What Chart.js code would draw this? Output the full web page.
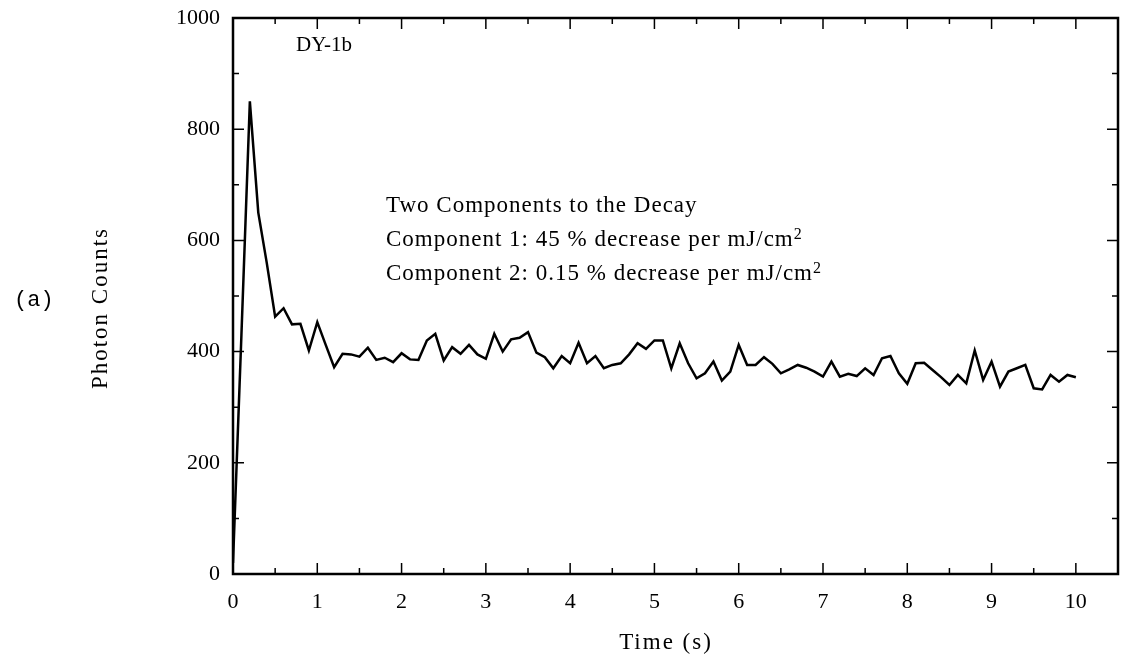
<!DOCTYPE html>
<html>
<head>
<meta charset="utf-8">
<script src="https://cdn.jsdelivr.net/npm/chart.js@4/dist/chart.umd.min.js"></script>
<style>
html,body{margin:0;padding:0;background:#fff;}
#decayChart{display:block;}
</style>
</head>
<body>
<canvas id="decayChart" width="1121" height="662"></canvas>
<script>
// PHOTON COUNT DECAY (DY-1b)

const timeStep = 0.1;

const photonCounts = [
20,430,850,650,560,463,478,449,450,402,
453,412,372,396,395,391,407,385,389,381,
397,386,385,420,432,384,408,396,412,395,
387,432,400,422,425,435,398,390,370,392,
379,416,379,392,370,376,379,395,415,405,
420,420,370,415,379,352,361,382,348,364,
412,376,376,390,378,361,368,376,371,364,
355,382,355,360,356,370,358,388,392,361,
342,379,380,367,354,340,358,343,402,349,
382,337,364,370,376,334,332,358,346,358,
354
];

const xTicks = [0,1,2,3,4,5,6,7,8,9,10];
const xMinorTicks = [0.5,1.5,2.5,3.5,4.5,5.5,6.5,7.5,8.5,9.5];
const yTicks = [0,200,400,600,800,1000];
const yMinorTicks = [100,300,500,700,900];

const notes = [
"Two Components to the Decay",
"Component 1: 45 % decrease per mJ/cm",
"Component 2: 0.15 % decrease per mJ/cm"
];

const serif = "'Liberation Serif', 'Times New Roman', serif";

const points = photonCounts.map((v,i)=>({x:+(i*timeStep).toFixed(1),y:v}));

// frame, inward ticks and texts
const framePlugin = {
id:"frame",
afterDraw(chart){
const ctx = chart.ctx;
const a = chart.chartArea;
const xs = chart.scales.x;
const ys = chart.scales.y;
ctx.save();
ctx.strokeStyle = "#000";
ctx.lineWidth = 2.5;
ctx.strokeRect(a.left,a.top,a.right-a.left,a.bottom-a.top);
ctx.lineWidth = 1.5;
ctx.beginPath();
const tx = (vals,len)=>{
vals.forEach(v=>{
const p = xs.getPixelForValue(v);
ctx.moveTo(p,a.bottom); ctx.lineTo(p,a.bottom-len);
ctx.moveTo(p,a.top); ctx.lineTo(p,a.top+len);
});
};
const ty = (vals,len)=>{
vals.forEach(v=>{
const p = ys.getPixelForValue(v);
ctx.moveTo(a.left,p); ctx.lineTo(a.left+len,p);
ctx.moveTo(a.right,p); ctx.lineTo(a.right-len,p);
});
};
tx(xTicks.slice(1),11);
tx(xMinorTicks,6);
ty(yTicks.slice(1,-1),11);
ty(yMinorTicks,6);
ctx.stroke();

ctx.fillStyle = "#000";
ctx.textBaseline = "middle";
ctx.textAlign = "center";
ctx.letterSpacing = "2px";
ctx.font = "23px " + serif;
ctx.fillText("Time (s)",666,643);
ctx.save();
ctx.translate(101,308);
ctx.rotate(-Math.PI/2);
ctx.fillText("Photon Counts",0,0);
ctx.restore();

ctx.textAlign = "left";
ctx.letterSpacing = "0px";
ctx.font = "21px " + serif;
ctx.fillText("DY-1b",296,45);

ctx.letterSpacing = "1px";
notes.forEach((t,i)=>{
const y = 206 + i*34;
ctx.font = "23px " + serif;
ctx.fillText(t,386,y);
if(i>0){
const w = ctx.measureText(t).width;
ctx.font = "16px " + serif;
ctx.fillText("2",386+w,y-5);
}
});

ctx.letterSpacing = "0px";
ctx.font = "22px 'Liberation Mono', 'Courier New', monospace";
ctx.fillText("(a)",14,300);
ctx.restore();
}
};

new Chart(document.getElementById("decayChart"),{

type:"line",

data:{
datasets:[{
label:"DY-1b",
data:points,
borderColor:"#000",
borderWidth:2.5,
pointRadius:0,
tension:0,
fill:false
}]
},

options:{
responsive:false,
animation:false,
layout:{
autoPadding:false,
padding:{top:18,right:3,left:0,bottom:0}
},
plugins:{
legend:{display:false},
tooltip:{enabled:false}
},
scales:{
x:{
type:"linear",
min:0,
max:10.5,
afterBuildTicks(s){ s.ticks = xTicks.map(v=>({value:v})); },
afterFit(s){ s.height = 88; s.paddingLeft = 0; s.paddingRight = 0; },
grid:{display:false,drawTicks:false},
border:{display:false},
ticks:{
padding:15,
maxRotation:0,
autoSkip:false,
color:"#000",
font:{family:serif,size:22},
callback:(v)=>String(v)
}
},
y:{
min:0,
max:1000,
afterBuildTicks(s){ s.ticks = yTicks.map(v=>({value:v})); },
afterFit(s){ s.width = 233; s.paddingTop = 0; s.paddingBottom = 0; },
grid:{display:false,drawTicks:false},
border:{display:false},
ticks:{
padding:13,
color:"#000",
font:{family:serif,size:22},
callback:(v)=>String(v)
}
}
}
},

plugins:[framePlugin]

});
</script>
</body>
</html>
